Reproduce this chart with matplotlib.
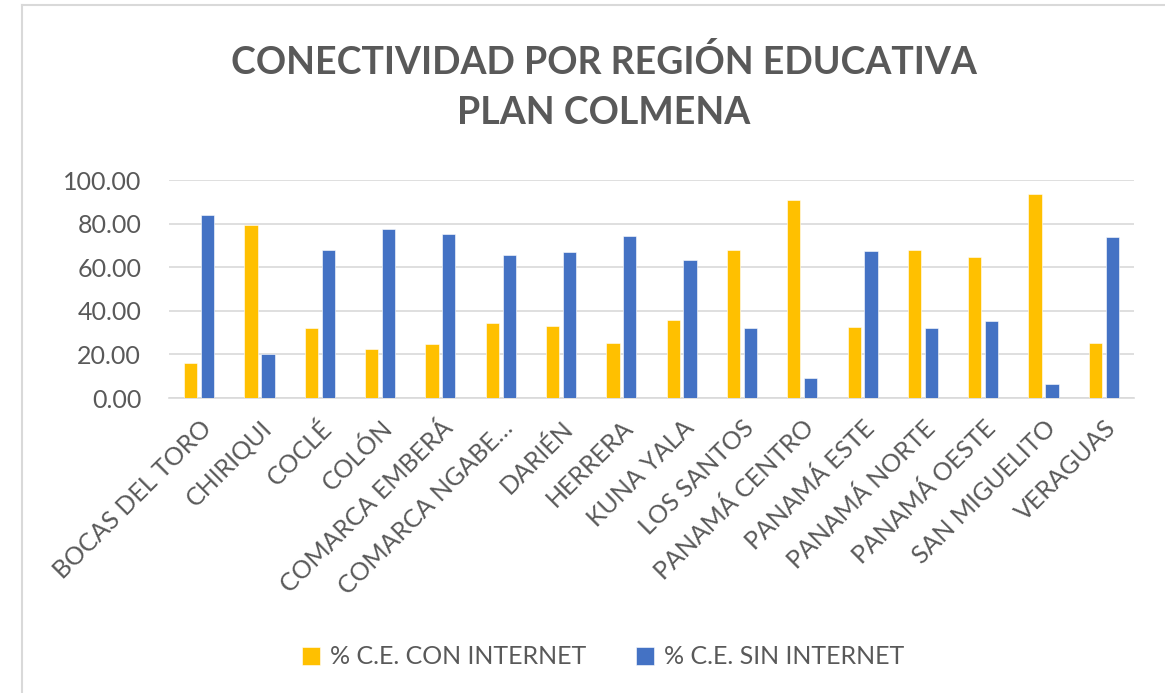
import numpy as np
import matplotlib.pyplot as plt
from matplotlib.lines import Line2D

regiones = ['BOCAS DEL TORO', 'CHIRIQUI', 'COCLÉ', 'COLÓN', 'COMARCA EMBERÁ',
            'COMARCA NGABE…', 'DARIÉN', 'HERRERA', 'KUNA YALA', 'LOS SANTOS',
            'PANAMÁ CENTRO', 'PANAMÁ ESTE', 'PANAMÁ NORTE', 'PANAMÁ OESTE',
            'SAN MIGUELITO', 'VERAGUAS']
con_internet = [15.9, 79.5, 31.9, 22.4, 24.7, 34.2, 33.0, 25.2,
                35.7, 67.8, 90.7, 32.5, 67.8, 64.6, 93.4, 25.2]
sin_internet = [84.0, 20.3, 67.9, 77.3, 75.1, 65.6, 66.9, 74.5,
                63.5, 31.9, 9.2, 67.3, 31.9, 35.3, 6.4, 74.0]
y_ticks = [0, 20, 40, 60, 80, 100]

naranja = '#FFC000'
azul = '#4472C4'
gris = '#595959'
rejilla = '#D9D9D9'

plt.rcParams['font.family'] = ['Lato', 'DejaVu Sans']

W, H = 1165, 693
fig = plt.figure(figsize=(W / 100, H / 100), dpi=100)
ax = fig.add_axes([169 / W, 1 - 398 / H, (1134 - 169) / W, (398 - 180) / H])

x = np.arange(len(regiones))
ancho = 0.22
ax.bar(x - 0.14, con_internet, ancho, color=naranja, edgecolor='white',
       linewidth=0.4, label='% C.E. CON INTERNET', zorder=3)
ax.bar(x + 0.14, sin_internet, ancho, color=azul, edgecolor='white',
       linewidth=0.4, label='% C.E. SIN INTERNET', zorder=3)

ax.set_xlim(-0.5, len(regiones) - 0.5)
ax.set_ylim(0, 100)
ax.set_yticks(y_ticks)
ax.set_yticklabels([f'{v:.2f}' for v in y_ticks], fontsize=18, color=gris)
ax.set_xticks(x)
ax.set_xticklabels(regiones, rotation=45, ha='right', rotation_mode='anchor',
                   fontsize=18, color=gris)
ax.tick_params(axis='y', length=0, pad=20)
ax.tick_params(axis='x', length=0, pad=13)
ax.grid(axis='y', color=rejilla, linewidth=1.2, zorder=0)
for s in ['top', 'right', 'left']:
    ax.spines[s].set_visible(False)
ax.spines['bottom'].set_color(rejilla)
ax.spines['bottom'].set_linewidth(1.2)

fig.text(604 / W, 1 - 62 / H, 'CONECTIVIDAD POR REGIÓN EDUCATIVA',
         ha='center', va='center', fontsize=27, fontweight='bold', color=gris)
fig.text(604 / W, 1 - 113 / H, 'PLAN COLMENA',
         ha='center', va='center', fontsize=27, fontweight='bold', color=gris)

fig.legend(loc='center', bbox_to_anchor=(603 / W, 1 - 657 / H), ncol=2,
           frameon=False, fontsize=18, labelcolor=gris, handlelength=0.7,
           handleheight=0.7, handletextpad=0.4, columnspacing=2.0)

# borde del gráfico (solo izquierda y arriba visibles)
fig.add_artist(Line2D([22 / W, 22 / W], [0, 1 - 5 / H], transform=fig.transFigure,
                      color=rejilla, linewidth=1.5))
fig.add_artist(Line2D([22 / W, 1], [1 - 5 / H, 1 - 5 / H], transform=fig.transFigure,
                      color=rejilla, linewidth=1.5))

fig.savefig('out.png', dpi=100)
